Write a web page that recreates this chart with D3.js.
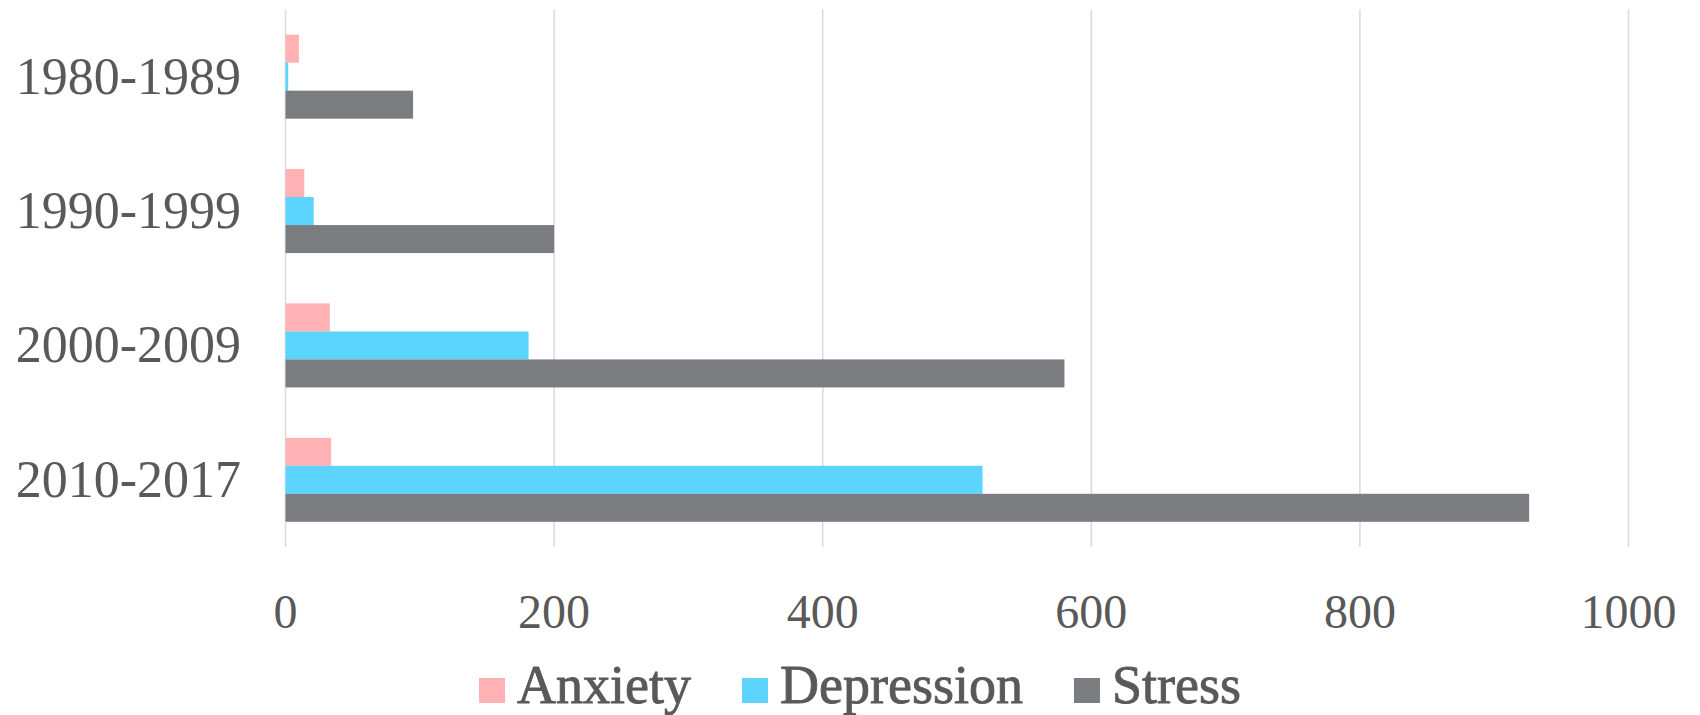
<!DOCTYPE html>
<html>
<head>
<meta charset="utf-8">
<script src="https://cdn.jsdelivr.net/npm/d3@7"></script>
<style>
  body { margin: 0; background: #fff; }
  text { font-family: "Liberation Serif", "DejaVu Serif", serif; fill: #595959; }
</style>
</head>
<body>
<script>
// chart data
var categories = ["1980-1989", "1990-1999", "2000-2009", "2010-2017"];
var seriesNames = ["Anxiety", "Depression", "Stress"];
var anxiety = [10, 14, 33, 34];
var depression = [2, 21, 181, 519];
var stress = [95, 200, 580, 926];
var xTicks = [0, 200, 400, 600, 800, 1000];
var colors = ["#ffb1b4", "#5dd4fe", "#7b7c80"];

//chart frame dimensions
var width = 1700,
    height = 715;

var plot = { left: 285.5, right: 1628.5, top: 9.5, bottom: 547 };

var svg = d3.select("body")
    .append("svg")
    .attr("width", width)
    .attr("height", height);

var x = d3.scaleLinear()
    .domain([0, 1000])
    .range([plot.left, plot.right]);

var y = d3.scaleBand()
    .domain(categories)
    .range([plot.top, plot.bottom])
    .paddingInner(0.375)
    .paddingOuter(0.1875);

var ySeries = d3.scaleBand()
    .domain(seriesNames)
    .range([0, y.bandwidth()]);

//vertical gridlines
svg.selectAll(".grid")
    .data(xTicks)
    .enter()
    .append("line")
    .attr("class", "grid")
    .attr("x1", function (d) { return x(d); })
    .attr("x2", function (d) { return x(d); })
    .attr("y1", plot.top)
    .attr("y2", plot.bottom)
    .attr("stroke", "#d9d9d9")
    .attr("stroke-width", 1.5);

//bars, one group per decade
var rows = categories.map(function (c, i) {
    return { cat: c, values: [anxiety[i], depression[i], stress[i]] };
});

var groups = svg.selectAll(".row")
    .data(rows)
    .enter()
    .append("g")
    .attr("class", "row")
    .attr("transform", function (d) { return "translate(0," + y(d.cat) + ")"; });

groups.selectAll("rect")
    .data(function (d) {
        return d.values.map(function (v, j) { return { name: seriesNames[j], value: v, color: colors[j] }; });
    })
    .enter()
    .append("rect")
    .attr("x", x(0))
    .attr("y", function (d) { return ySeries(d.name); })
    .attr("width", function (d) { return x(d.value) - x(0); })
    .attr("height", ySeries.bandwidth())
    .attr("fill", function (d) { return d.color; });

//category labels
svg.selectAll(".ylab")
    .data(categories)
    .enter()
    .append("text")
    .attr("class", "ylab")
    .attr("x", 241)
    .attr("y", function (d) { return y(d) + y.bandwidth() / 2 + 17; })
    .attr("text-anchor", "end")
    .style("font-size", "52px")
    .text(function (d) { return d; });

//value axis labels
svg.selectAll(".xlab")
    .data(xTicks)
    .enter()
    .append("text")
    .attr("class", "xlab")
    .attr("x", function (d) { return x(d); })
    .attr("y", 628)
    .attr("text-anchor", "middle")
    .style("font-size", "48px")
    .text(function (d) { return d; });

//legend
var legend = svg.append("g").attr("class", "legend");
var lx = 0;
seriesNames.forEach(function (name, i) {
    var item = legend.append("g").attr("transform", "translate(" + lx + ",0)");
    item.append("rect")
        .attr("x", 0)
        .attr("y", 678)
        .attr("width", 26)
        .attr("height", 25)
        .attr("fill", colors[i]);
    var t = item.append("text")
        .attr("x", 38)
        .attr("y", 703)
        .style("font-size", "54px")
        .style("stroke", "#595959")
        .style("stroke-width", 0.9)
        .text(name);
    lx += 38 + t.node().getComputedTextLength() + 51;
});
var legendWidth = lx - 51;
legend.attr("transform", "translate(" + (860 - legendWidth / 2) + ",0)");
</script>
</body>
</html>
